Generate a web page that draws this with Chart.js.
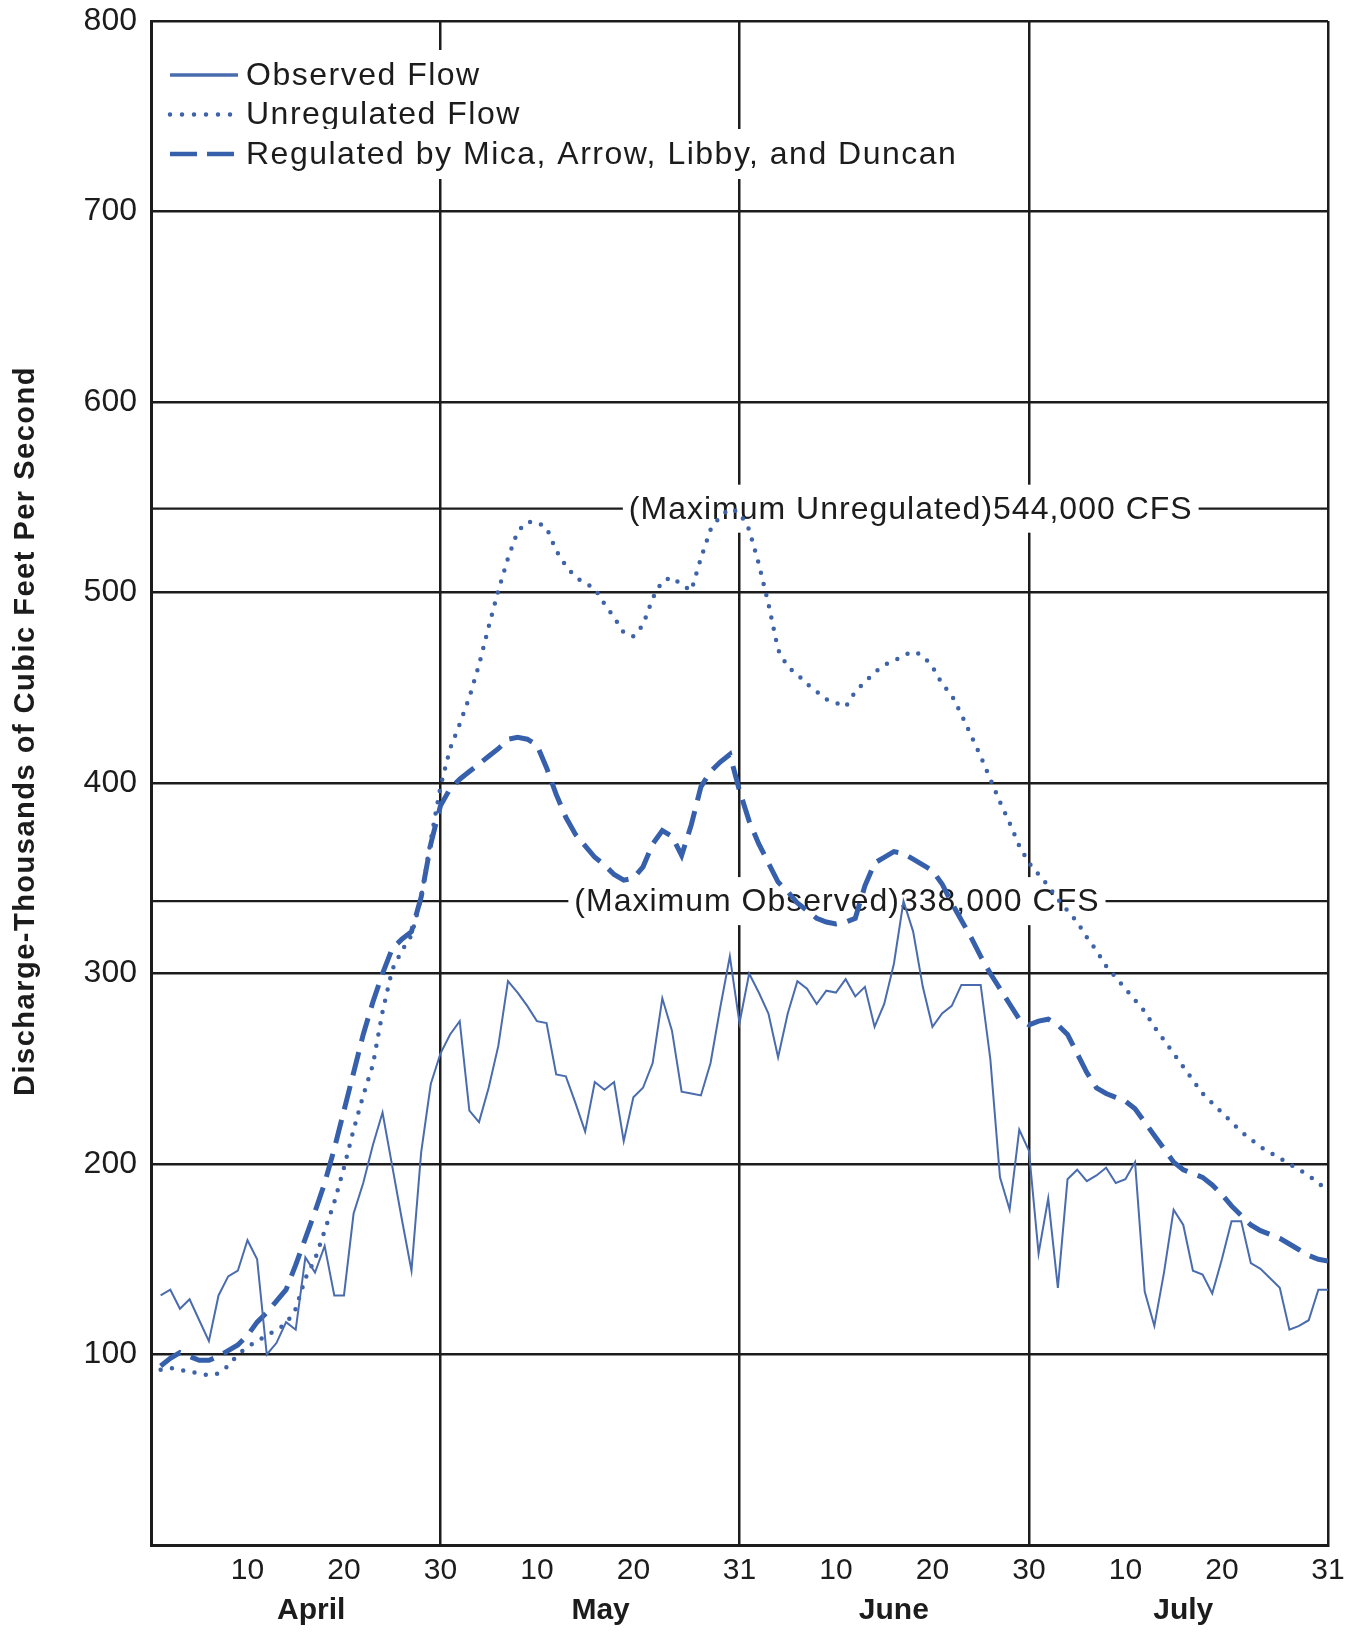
<!DOCTYPE html>
<html lang="en">
<head>
<meta charset="utf-8">
<title>Discharge, April to July</title>
<script src="https://cdn.jsdelivr.net/npm/chart.js@4.4.1/dist/chart.umd.min.js"></script>
<style>
  html, body { margin: 0; padding: 0; background: #fff; }
  canvas { display: block; }
</style>
</head>
<body>
<canvas id="discharge" width="1363" height="1637"></canvas>
<script>
// --- DATA: thousands of cfs, one value per day from 1 April to 31 July ---
const observed = [
  131, 134, 124, 129, 118, 107, 131, 141, 144, 160, 150, 100, 106, 117, 113,
  151, 143, 157, 131, 131, 174, 190, 210, 227, 199, 171, 144, 206, 242, 258,
  268, 275, 228, 222, 240, 262, 296, 290, 283, 275, 274, 247, 246, 232, 217, 243,
  239, 243, 212, 235, 240, 253, 287, 270, 238, 237, 236, 253, 282, 309, 274,
  300, 290, 279, 256, 279, 296, 292, 284, 291, 290, 297, 288, 293, 272, 284,
  305, 338, 322, 293, 272, 279, 283, 294, 294, 294, 255, 193, 176, 218, 207,
  153, 182, 135, 192, 197, 191, 194, 198, 190, 192, 201, 133, 115, 143, 176, 168,
  144, 142, 132, 150, 170, 170, 148, 145, 140, 135, 113, 115, 118, 134, 134
];
const unregulated = [
  92, 93, 92, 91, 90, 89, 90, 94, 100, 104, 107, 110, 113, 116, 124,
  140, 150, 165, 180, 198, 218, 236, 252, 280, 302, 312, 320, 340, 370, 398,
  418, 431, 445, 462, 482, 501, 518, 532, 537, 537, 534, 522, 514, 508, 505, 502,
  494, 487, 479, 477, 483, 497, 506, 508, 504, 501, 518, 533, 540, 544, 542,
  533, 515, 494, 470, 461, 457, 452, 448, 444, 442, 440, 448, 453, 458, 462,
  464, 467, 469, 467, 461, 452, 446, 436, 425, 414, 402, 390, 379, 367, 358,
  352, 346, 339, 333, 327, 319, 312, 304, 298, 292, 286, 280, 272, 265, 258, 251,
  244, 237, 232, 227, 222, 217, 213, 209, 206, 203, 200, 197, 194, 190, 186
];
const regulated = [
  94, 98, 101, 99, 97, 97, 99, 102, 105, 110, 117, 122, 128, 134, 147,
  161, 175, 190, 208, 228, 248, 268, 285, 300, 313, 318, 322, 340, 368, 388,
  397, 402, 406, 410, 414, 418, 423, 424, 423, 420, 408, 394, 382, 373, 367, 361,
  357, 352, 349, 350, 356, 368, 375, 372, 362, 378, 398, 406, 411, 415, 396,
  380, 368, 358, 348, 343, 337, 333, 329, 327, 326, 327, 329, 346, 358, 361,
  364, 363, 360, 357, 354, 347, 337, 328, 319, 309, 300, 292, 284, 276, 273,
  275, 276, 273, 268, 258, 248, 240, 237, 235, 233, 229, 222, 215, 208, 201, 197,
  195, 193, 189, 184, 178, 173, 168, 165, 163, 161, 158, 155, 152, 150, 149
];

const maxUnregulated = 544;   // thousand cfs
const maxObserved = 338;

// x axis counts days from 31 March (0) to 31 July (122)
const tickDays   = [10, 20, 30, 40, 50, 61, 71, 81, 91, 101, 111, 122];
const tickLabels = ['10', '20', '30', '10', '20', '31', '10', '20', '30', '10', '20', '31'];
const monthEnds  = [30, 61, 91, 122];
const months     = ['April', 'May', 'June', 'July'];
const monthMid   = [16.6, 46.6, 77, 107];

const seriesNames = [
  'Observed Flow',
  'Unregulated Flow',
  'Regulated by Mica, Arrow, Libby, and Duncan'
];
const yTitle = 'Discharge-Thousands of Cubic Feet Per Second';

// --- STYLE ---
const FONT = '"Liberation Sans", Arial, Helvetica, sans-serif';
const INK = '#1c1c1c';
const BLUE = ['#4a6cae', '#3f63a8', '#3660ab'];

const toPoints = arr => arr.map((v, i) => ({ x: i + 1, y: v }));
const cfs = v => (v * 1000).toLocaleString('en-US') + ' CFS';

// label boxes on the max lines (center given in days)
const maxLines = [
  { value: maxUnregulated, name: 'Maximum Unregulated', centerDay: 78.75 },
  { value: maxObserved, name: 'Maximum Observed', centerDay: 71.1 }
];

// legend in the top left corner of the plot
const LEGEND = { left: 170, top: 75, gap: 39.5, sample: 68, pad: 8 };
const legendLines = [
  { width: 3.5, dash: [], cap: 'butt' },
  { width: 4.5, dash: [0, 12], cap: 'round' },
  { width: 4.5, dash: [27, 10], cap: 'butt' }
];

const overlay = {
  id: 'overlay',
  beforeDatasetsDraw(chart) {
    const { ctx, chartArea: area, scales: { x, y } } = chart;
    ctx.save();
    ctx.font = '32px ' + FONT;
    ctx.textBaseline = 'middle';

    // horizontal max lines with their white label boxes
    ctx.letterSpacing = '1px';
    maxLines.forEach(m => {
      const py = y.getPixelForValue(m.value);
      const text = `(${m.name})${cfs(m.value)}`;
      const w = ctx.measureText(text).width;
      const cx = x.getPixelForValue(m.centerDay);
      ctx.strokeStyle = INK;
      ctx.lineWidth = 2.2;
      ctx.beginPath();
      ctx.moveTo(area.left, py);
      ctx.lineTo(area.right, py);
      ctx.stroke();
      ctx.fillStyle = '#fff';
      ctx.fillRect(cx - w / 2 - 6, py - 24, w + 12, 48);
      ctx.fillStyle = INK;
      ctx.textAlign = 'center';
      ctx.fillText(text, cx, py + 1);
    });

    // legend rows
    ctx.letterSpacing = '1.5px';
    ctx.textAlign = 'left';
    chart.data.datasets.forEach((ds, i) => {
      const ry = LEGEND.top + i * LEGEND.gap;
      const tx = LEGEND.left + LEGEND.sample + LEGEND.pad;
      const w = ctx.measureText(ds.label).width;
      ctx.fillStyle = '#fff';
      ctx.fillRect(tx - 4, ry - 25, w + 10, 50);
      ctx.fillStyle = INK;
      ctx.fillText(ds.label, tx, ry + 1);

      const st = legendLines[i];
      ctx.strokeStyle = ds.borderColor;
      ctx.lineWidth = st.width;
      ctx.lineCap = st.cap;
      ctx.setLineDash(st.dash);
      ctx.beginPath();
      ctx.moveTo(LEGEND.left, ry);
      ctx.lineTo(LEGEND.left + LEGEND.sample, ry);
      ctx.stroke();
      ctx.setLineDash([]);
    });
    ctx.restore();
  },
  afterDraw(chart) {
    // rotated y axis title
    const { ctx } = chart;
    ctx.save();
    ctx.translate(26, 731);
    ctx.rotate(-Math.PI / 2);
    ctx.font = 'bold 29px ' + FONT;
    ctx.letterSpacing = '1.5px';
    ctx.fillStyle = INK;
    ctx.textAlign = 'center';
    ctx.textBaseline = 'middle';
    ctx.fillText(yTitle, 0, 0);
    ctx.restore();
  }
};

new Chart(document.getElementById('discharge'), {
  type: 'line',
  data: {
    datasets: [
      {
        label: seriesNames[0],
        data: toPoints(observed),
        borderColor: BLUE[0],
        borderWidth: 2,
        borderJoinStyle: 'miter'
      },
      {
        label: seriesNames[1],
        data: toPoints(unregulated),
        borderColor: BLUE[1],
        borderWidth: 4.5,
        borderDash: [0, 11.5],
        borderCapStyle: 'round'
      },
      {
        label: seriesNames[2],
        data: toPoints(regulated),
        borderColor: BLUE[2],
        borderWidth: 5,
        borderDash: [24, 11],
        borderCapStyle: 'butt'
      }
    ]
  },
  options: {
    responsive: false,
    devicePixelRatio: 1,
    animation: false,
    layout: { padding: { top: 21, right: 35, bottom: 0, left: 0 } },
    elements: { point: { radius: 0 }, line: { tension: 0, fill: false } },
    plugins: { legend: { display: false }, tooltip: { enabled: false } },
    scales: {
      x: {
        type: 'linear',
        min: 0,
        max: 122,
        afterBuildTicks: s => { s.ticks = tickDays.map(v => ({ value: v })); },
        afterFit: s => { s.height = 46; },
        ticks: {
          autoSkip: false,
          maxRotation: 0,
          padding: 8,
          color: INK,
          font: { family: FONT, size: 30 },
          callback: (v, i) => tickLabels[i]
        },
        grid: {
          drawTicks: false,
          lineWidth: 2.5,
          color: c => (c.tick && monthEnds.includes(c.tick.value)) ? INK : 'rgba(0,0,0,0)'
        },
        border: { display: true, color: INK, width: 3 }
      },
      month: {
        axis: 'x',
        type: 'linear',
        position: 'bottom',
        min: 0,
        max: 122,
        afterBuildTicks: s => { s.ticks = monthMid.map(v => ({ value: v })); },
        afterFit: s => { s.height = 46; },
        ticks: {
          autoSkip: false,
          maxRotation: 0,
          padding: 2,
          color: INK,
          font: { family: FONT, size: 30, weight: 'bold' },
          callback: (v, i) => months[i]
        },
        grid: { display: false, drawTicks: false },
        border: { display: false }
      },
      y: {
        min: 0,
        max: 800,
        afterFit: s => {
          s.width = 151;
          // keep the top tick label from pushing the plot down
          s.paddingTop = 0;
          s.paddingBottom = 0;
        },
        ticks: {
          stepSize: 100,
          padding: 14,
          color: INK,
          font: { family: FONT, size: 32 },
          callback: v => (v === 0 ? '' : v)
        },
        grid: { drawTicks: false, lineWidth: 2.5, color: INK },
        border: { display: true, color: INK, width: 3 }
      }
    }
  },
  plugins: [overlay]
});
</script>
</body>
</html>
